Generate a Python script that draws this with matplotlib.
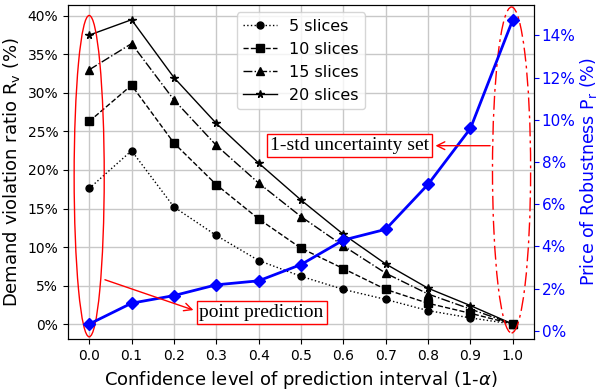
"""Demand violation ratio vs. price of robustness over the prediction-interval confidence level."""

import matplotlib

matplotlib.use("Agg")
import matplotlib.pyplot as plt
from matplotlib.patches import Ellipse
from matplotlib.ticker import PercentFormatter

BLUE = "blue"
RED = "red"

conf_level = [0.0, 0.1, 0.2, 0.3, 0.4, 0.5, 0.6, 0.7, 0.8, 0.9, 1.0]

# demand violation ratio R_v (%) for each number of slices
rv_5 = [17.6, 22.5, 15.2, 11.5, 8.25, 6.2, 4.5, 3.2, 1.75, 0.8, 0.0]
rv_10 = [26.3, 31.0, 23.5, 18.1, 13.65, 9.85, 7.2, 4.5, 2.7, 1.4, 0.0]
rv_15 = [33.0, 36.4, 29.1, 23.2, 18.3, 13.95, 10.15, 6.6, 3.9, 1.95, 0.0]
rv_20 = [37.5, 39.5, 32.0, 26.05, 20.9, 16.1, 11.65, 7.8, 4.65, 2.4, 0.0]

# price of robustness P_r (%)
price_robust = [0.32, 1.31, 1.67, 2.18, 2.37, 3.14, 4.30, 4.81, 6.94, 9.59, 14.74]

series = [
    ("5 slices", rv_5, ":", "o", 5),
    ("10 slices", rv_10, "--", "s", 5.5),
    ("15 slices", rv_15, "-.", "^", 5.5),
    ("20 slices", rv_20, "-", "*", 5.5),
]

fig = plt.figure(figsize=(5.98, 3.9), dpi=100)
fig.subplots_adjust(left=68 / 598, right=534 / 598, top=1 - 4.5 / 390, bottom=1 - 339.3 / 390)
ax = fig.add_subplot(111)

for label, vals, ls, mk, ms in series:
    ax.plot(conf_level, vals, color="black", ls=ls, marker=mk, ms=ms, lw=1.0, label=label)

ax.set_xticks(conf_level)
ax.set_xticklabels([f"{c:.1f}" for c in conf_level])
ax.set_yticks(range(0, 41, 5))
ax.yaxis.set_major_formatter(PercentFormatter(xmax=100, decimals=0))
ax.tick_params(labelsize=10)
ax.grid(True, color="#c8c8c8", lw=1.0)
ax.set_axisbelow(True)
ax.set_xlabel(r"Confidence level of prediction interval (1-$\alpha$)", fontsize=13)
ax.set_ylabel(r"Demand violation ratio R$_{\mathrm{v}}$ (%)", fontsize=13)
ax.legend(loc="upper center", fontsize=11.5, framealpha=0.8, handlelength=2.1)

ax2 = ax.twinx()
ax2.plot(conf_level, price_robust, color=BLUE, lw=2.0, marker="D", ms=6.5)
ax2.set_yticks(range(0, 15, 2))
ax2.yaxis.set_major_formatter(PercentFormatter(xmax=100, decimals=0))
ax2.tick_params(axis="y", colors=BLUE, labelsize=11, pad=2)
ax2.set_ylabel(r"Price of Robustness P$_{\mathrm{r}}$ (%)", color=BLUE, fontsize=12.5, labelpad=2)

# ellipses marking the two extreme cases (left axis data coords)
ax2.add_patch(Ellipse((0.0, 19.2), 0.071, 41.7, transform=ax.transData,
                      fill=False, ec=RED, lw=1.0, clip_on=False))
ax2.add_patch(Ellipse((0.997, 20.0), 0.09, 42.3, transform=ax.transData,
                      fill=False, ec=RED, lw=1.0, ls=(0, (10, 3, 2, 3)), clip_on=False))

box = dict(boxstyle="square,pad=0.15", fc="white", ec=RED, lw=1.0)
serif = "Liberation Serif"
ax2.annotate("1-std uncertainty set", xy=(0.953, 23.15), xytext=(0.615, 23.15),
             xycoords=ax.transData, textcoords=ax.transData,
             ha="center", va="center", fontsize=14, family=serif, bbox=box,
             arrowprops=dict(arrowstyle="<-", color=RED, lw=1.0))
ax2.annotate("point prediction", xy=(0.031, 5.87), xytext=(0.407, 1.55),
             xycoords=ax.transData, textcoords=ax.transData,
             ha="center", va="center", fontsize=14, family=serif, bbox=box,
             arrowprops=dict(arrowstyle="<-", color=RED, lw=1.0, relpos=(0.0, 0.5)))

fig.savefig("out.png", dpi=100)
